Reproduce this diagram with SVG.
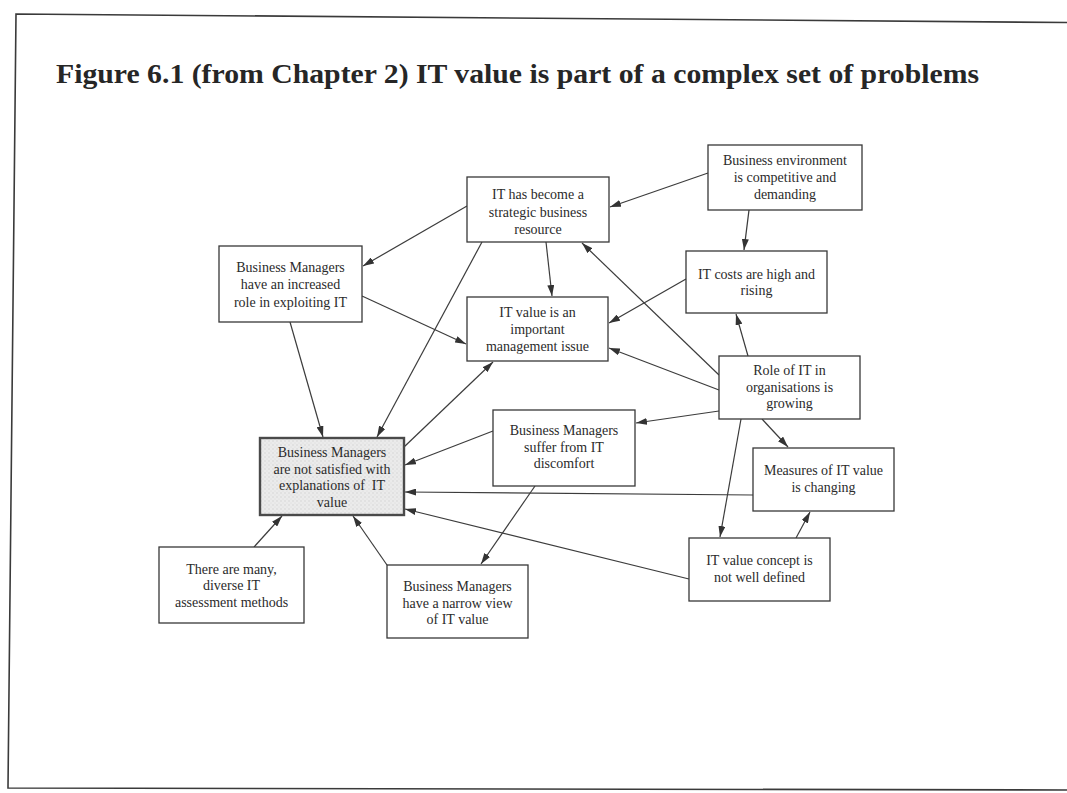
<svg xmlns="http://www.w3.org/2000/svg" width="1067" height="793" viewBox="0 0 1067 793">
  <style>
    .title { font-family: "Liberation Serif", "Times New Roman", serif; font-size: 27px; font-weight: bold; fill: #262626; }
    .box { fill: #ffffff; stroke: #383838; stroke-width: 1.3; }
    .box-key { fill: url(#stipple); stroke: #4a4a4a; stroke-width: 2.4; }
    .label { font-family: "Liberation Serif", "Times New Roman", serif; font-size: 14px; fill: #2b2b2b; text-anchor: middle; }
    .link { stroke: #3c3c3c; stroke-width: 1.2; fill: none; marker-end: url(#arrow); }
    .frame { fill: none; stroke: #3a3a3a; stroke-width: 1.6; }
  </style>
  <defs>
    <marker id="arrow" markerUnits="userSpaceOnUse" markerWidth="11" markerHeight="7" refX="11" refY="3.5" orient="auto">
      <path d="M0,0 L11,3.5 L0,7 Z" fill="#333333"/>
    </marker>
    <pattern id="stipple" width="4" height="4" patternUnits="userSpaceOnUse">
      <rect width="4" height="4" fill="#ebebeb"/>
      <circle cx="1" cy="1" r="0.7" fill="#cfcfcf"/>
      <circle cx="3" cy="3" r="0.6" fill="#d8d8d8"/>
    </pattern>
  </defs>

  <rect width="1067" height="793" fill="#ffffff"/>

  <!-- page frame -->
  <polyline class="frame" points="1067,22.5 16,14 8,788 1067,790"/>

  <text id="title" class="title" x="56" y="83" textLength="923" lengthAdjust="spacingAndGlyphs">Figure 6.1 (from Chapter 2) IT value is part of a complex set of problems</text>

  <g id="connectors">
    <line class="link" x1="708" y1="173" x2="610" y2="207"/>
    <line class="link" x1="749" y1="210" x2="744" y2="250"/>
    <line class="link" x1="467" y1="206" x2="363" y2="266"/>
    <line class="link" x1="546" y1="242" x2="552" y2="296"/>
    <line class="link" x1="482" y1="242" x2="377" y2="437"/>
    <line class="link" x1="362" y1="296" x2="466" y2="344"/>
    <line class="link" x1="290" y1="322" x2="323" y2="437"/>
    <line class="link" x1="719" y1="375" x2="582" y2="243"/>
    <line class="link" x1="748" y1="356" x2="736" y2="314"/>
    <line class="link" x1="686" y1="279" x2="609" y2="323"/>
    <line class="link" x1="719" y1="390" x2="609" y2="348"/>
    <line class="link" x1="719" y1="411" x2="636" y2="423"/>
    <line class="link" x1="741" y1="419" x2="720" y2="537"/>
    <line class="link" x1="762" y1="419" x2="788" y2="447"/>
    <line class="link" x1="796" y1="538" x2="810" y2="512"/>
    <line class="link" x1="753" y1="495" x2="405" y2="492"/>
    <line class="link" x1="689" y1="579" x2="405" y2="509"/>
    <line class="link" x1="493" y1="431" x2="405" y2="465"/>
    <line class="link" x1="535" y1="486" x2="481" y2="564"/>
    <line class="link" x1="404" y1="447" x2="493" y2="362"/>
    <line class="link" x1="254" y1="547" x2="282" y2="516"/>
    <line class="link" x1="387" y1="565" x2="353" y2="516"/>
  </g>

  <g id="strategic-resource">
    <rect class="box" x="467" y="177" width="142" height="65"/>
    <text class="label" x="538" y="199">IT has become a</text>
    <text class="label" x="538" y="216.5">strategic business</text>
    <text class="label" x="538" y="233.5">resource</text>
  </g>

  <g id="business-environment">
    <rect class="box" x="708" y="145" width="154" height="65"/>
    <text class="label" x="785" y="165">Business environment</text>
    <text class="label" x="785" y="182">is competitive and</text>
    <text class="label" x="785" y="198.5">demanding</text>
  </g>

  <g id="increased-role">
    <rect class="box" x="219" y="246" width="143" height="76"/>
    <text class="label" x="290.5" y="272">Business Managers</text>
    <text class="label" x="290.5" y="289">have an increased</text>
    <text class="label" x="290.5" y="306.5">role in exploiting IT</text>
  </g>

  <g id="management-issue">
    <rect class="box" x="467" y="297" width="141" height="64"/>
    <text class="label" x="537.5" y="317">IT value is an</text>
    <text class="label" x="537.5" y="334">important</text>
    <text class="label" x="537.5" y="351">management issue</text>
  </g>

  <g id="it-costs">
    <rect class="box" x="686" y="251" width="141" height="62"/>
    <text class="label" x="756.5" y="278.5">IT costs are high and</text>
    <text class="label" x="756.5" y="295">rising</text>
  </g>

  <g id="role-growing">
    <rect class="box" x="719" y="356" width="141" height="63"/>
    <text class="label" x="789.5" y="375">Role of IT in</text>
    <text class="label" x="789.5" y="391.5">organisations is</text>
    <text class="label" x="789.5" y="408">growing</text>
  </g>

  <g id="it-discomfort">
    <rect class="box" x="493" y="410" width="142" height="76"/>
    <text class="label" x="564" y="435">Business Managers</text>
    <text class="label" x="564" y="451.5">suffer from IT</text>
    <text class="label" x="564" y="468">discomfort</text>
  </g>

  <g id="measures-changing">
    <rect class="box" x="753" y="448" width="141" height="63"/>
    <text class="label" x="823.5" y="475">Measures of IT value</text>
    <text class="label" x="823.5" y="491.5">is changing</text>
  </g>

  <g id="concept-undefined">
    <rect class="box" x="689" y="538" width="141" height="63"/>
    <text class="label" x="759.5" y="565">IT value concept is</text>
    <text class="label" x="759.5" y="582">not well defined</text>
  </g>

  <g id="not-satisfied">
    <rect class="box-key" x="260" y="438" width="144" height="77"/>
    <text class="label" x="332" y="457">Business Managers</text>
    <text class="label" x="332" y="473.5">are not satisfied with</text>
    <text class="label" x="332" y="490" xml:space="preserve">explanations of  IT</text>
    <text class="label" x="332" y="506.5">value</text>
  </g>

  <g id="assessment-methods">
    <rect class="box" x="159" y="547" width="145" height="76"/>
    <text class="label" x="231.5" y="573.5">There are many,</text>
    <text class="label" x="231.5" y="590">diverse IT</text>
    <text class="label" x="231.5" y="606.5">assessment methods</text>
  </g>

  <g id="narrow-view">
    <rect class="box" x="387" y="565" width="141" height="73"/>
    <text class="label" x="457.5" y="591">Business Managers</text>
    <text class="label" x="457.5" y="607.5">have a narrow view</text>
    <text class="label" x="457.5" y="624">of IT value</text>
  </g>
</svg>
